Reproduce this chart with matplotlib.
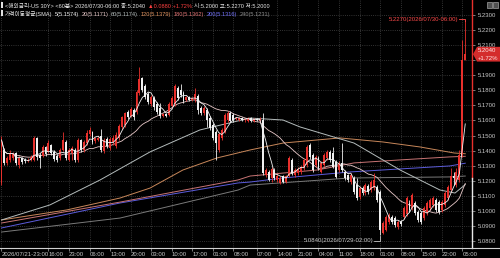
import numpy as np
import pandas as pd
import matplotlib
matplotlib.use("Agg")
import matplotlib.pyplot as plt
from matplotlib import font_manager
from matplotlib.patches import Polygon, Rectangle
from matplotlib.transforms import blended_transform_factory

#Fonts - narrow latin font first, korean fallback after it
installed = set(f.name for f in font_manager.fontManager.ttflist)
NARROW = 'Liberation Sans Narrow' if 'Liberation Sans Narrow' in installed else 'Liberation Sans'
plt.rcParams['font.family'] = [NARROW, 'Noto Sans CJK KR', 'DejaVu Sans']
#text sizes, a bit larger if the narrow face is there
FS_AX = 5.0 if NARROW == 'Liberation Sans Narrow' else 4.3
FS_HEAD = 5.0 if NARROW == 'Liberation Sans Narrow' else 4.1

#60 minute candles, US 30Y yield
opens = [5.1185, 5.1404, 5.1318, 5.1338, 5.1351, 5.1384, 5.1305, 5.1351, 5.1338, 5.1331,
         5.1338, 5.1338, 5.1484, 5.1371, 5.1364, 5.1424, 5.1391, 5.1437, 5.1391, 5.1364,
         5.1351, 5.1404, 5.1457, 5.1338, 5.1384, 5.1404, 5.1338, 5.1470, 5.1404, 5.1450,
         5.1510, 5.1524, 5.1464, 5.1470, 5.1497, 5.1397, 5.1477, 5.1417, 5.1457, 5.1430,
         5.1484, 5.1557, 5.1570, 5.1656, 5.1630, 5.1670, 5.1656, 5.1782, 5.1882, 5.1829,
         5.1776, 5.1710, 5.1749, 5.1710, 5.1683, 5.1630, 5.1643, 5.1636, 5.1696, 5.1710,
         5.1815, 5.1802, 5.1782, 5.1736, 5.1756, 5.1736, 5.1736, 5.1763, 5.1683, 5.1650,
         5.1670, 5.1616, 5.1570, 5.1524, 5.1404, 5.1484, 5.1524, 5.1603, 5.1650, 5.1636,
         5.1610, 5.1603, 5.1616, 5.1603, 5.1597, 5.1616, 5.1597, 5.1610, 5.1597, 5.1603,
         5.1238, 5.1258, 5.1218, 5.1271, 5.1205, 5.1185, 5.1231, 5.1191, 5.1231, 5.1338,
         5.1238, 5.1251, 5.1258, 5.1285, 5.1305, 5.1437, 5.1371, 5.1305, 5.1351, 5.1258,
         5.1305, 5.1351, 5.1391, 5.1384, 5.1325, 5.1271, 5.1318, 5.1258, 5.1238, 5.1191,
         5.1218, 5.1171, 5.1092, 5.1151, 5.1118, 5.1165, 5.1138, 5.1151, 5.1158, 5.1125,
         5.0853, 5.0873, 5.0926, 5.0959, 5.0952, 5.0893, 5.0926, 5.0959, 5.0979, 5.1052,
         5.1019, 5.1052, 5.0992, 5.0986, 5.0952, 5.0986, 5.1019, 5.1039, 5.1072, 5.1058,
         5.1006, 5.1039, 5.1085, 5.1138, 5.1231, 5.1171, 5.1205, 5.1371, 5.2000]
highs = [5.1497, 5.1417, 5.1364, 5.1404, 5.1391, 5.1391, 5.1364, 5.1358, 5.1351, 5.1351,
         5.1371, 5.1497, 5.1490, 5.1384, 5.1437, 5.1430, 5.1470, 5.1444, 5.1404, 5.1377,
         5.1417, 5.1524, 5.1470, 5.1417, 5.1430, 5.1417, 5.1484, 5.1477, 5.1470, 5.1537,
         5.1557, 5.1530, 5.1490, 5.1497, 5.1544, 5.1484, 5.1490, 5.1490, 5.1504, 5.1524,
         5.1577, 5.1630, 5.1656, 5.1670, 5.1690, 5.1683, 5.1802, 5.1956, 5.1889, 5.1842,
         5.1789, 5.1769, 5.1763, 5.1723, 5.1716, 5.1650, 5.1650, 5.1723, 5.1763, 5.1842,
         5.1829, 5.1842, 5.1796, 5.1763, 5.1763, 5.1756, 5.1815, 5.1776, 5.1696, 5.1696,
         5.1683, 5.1630, 5.1583, 5.1537, 5.1524, 5.1550, 5.1650, 5.1663, 5.1663, 5.1650,
         5.1623, 5.1623, 5.1623, 5.1616, 5.1623, 5.1623, 5.1616, 5.1616, 5.1623, 5.1650,
         5.1285, 5.1271, 5.1291, 5.1285, 5.1245, 5.1231, 5.1238, 5.1238, 5.1364, 5.1351,
         5.1285, 5.1291, 5.1305, 5.1351, 5.1437, 5.1450, 5.1384, 5.1371, 5.1364, 5.1331,
         5.1384, 5.1404, 5.1404, 5.1424, 5.1338, 5.1331, 5.1450, 5.1271, 5.1245, 5.1251,
         5.1231, 5.1218, 5.1165, 5.1165, 5.1185, 5.1178, 5.1205, 5.1251, 5.1171, 5.1138,
         5.0932, 5.0972, 5.0986, 5.0972, 5.0966, 5.0939, 5.0939, 5.1032, 5.1098, 5.1072,
         5.1118, 5.1065, 5.1006, 5.0999, 5.1032, 5.1065, 5.1085, 5.1098, 5.1085, 5.1072,
         5.1072, 5.1131, 5.1171, 5.1285, 5.1258, 5.1285, 5.1404, 5.2134, 5.2270]
lows = [5.1172, 5.1305, 5.1305, 5.1325, 5.1338, 5.1305, 5.1285, 5.1311, 5.1318, 5.1325,
        5.1331, 5.1331, 5.1338, 5.1285, 5.1358, 5.1364, 5.1384, 5.1371, 5.1331, 5.1325,
        5.1338, 5.1397, 5.1338, 5.1331, 5.1338, 5.1325, 5.1325, 5.1391, 5.1391, 5.1437,
        5.1497, 5.1444, 5.1450, 5.1464, 5.1391, 5.1384, 5.1417, 5.1404, 5.1437, 5.1417,
        5.1470, 5.1544, 5.1557, 5.1610, 5.1623, 5.1603, 5.1643, 5.1769, 5.1789, 5.1743,
        5.1710, 5.1696, 5.1670, 5.1643, 5.1616, 5.1623, 5.1623, 5.1630, 5.1683, 5.1696,
        5.1736, 5.1756, 5.1716, 5.1729, 5.1729, 5.1729, 5.1723, 5.1643, 5.1636, 5.1636,
        5.1557, 5.1537, 5.1470, 5.1338, 5.1391, 5.1470, 5.1517, 5.1590, 5.1590, 5.1590,
        5.1603, 5.1597, 5.1597, 5.1590, 5.1590, 5.1590, 5.1590, 5.1597, 5.1590, 5.1238,
        5.1224, 5.1198, 5.1191, 5.1205, 5.1191, 5.1178, 5.1185, 5.1185, 5.1224, 5.1238,
        5.1224, 5.1238, 5.1245, 5.1271, 5.1291, 5.1344, 5.1258, 5.1291, 5.1271, 5.1251,
        5.1291, 5.1338, 5.1325, 5.1285, 5.1218, 5.1258, 5.1258, 5.1205, 5.1191, 5.1178,
        5.1111, 5.1072, 5.1078, 5.1105, 5.1105, 5.1111, 5.1125, 5.1138, 5.1058, 5.0840,
        5.0846, 5.0866, 5.0912, 5.0912, 5.0893, 5.0879, 5.0899, 5.0946, 5.0966, 5.0992,
        5.1006, 5.0972, 5.0926, 5.0912, 5.0939, 5.0972, 5.1006, 5.1025, 5.0992, 5.0979,
        5.0992, 5.1025, 5.1072, 5.1125, 5.1171, 5.1158, 5.1191, 5.1358, 5.2000]
closes = [5.1470, 5.1318, 5.1351, 5.1384, 5.1377, 5.1318, 5.1351, 5.1325, 5.1331, 5.1338,
          5.1358, 5.1484, 5.1358, 5.1351, 5.1424, 5.1377, 5.1450, 5.1384, 5.1344, 5.1338,
          5.1404, 5.1470, 5.1351, 5.1404, 5.1417, 5.1338, 5.1470, 5.1404, 5.1457, 5.1517,
          5.1537, 5.1457, 5.1484, 5.1484, 5.1404, 5.1470, 5.1430, 5.1477, 5.1484, 5.1504,
          5.1563, 5.1623, 5.1650, 5.1623, 5.1676, 5.1623, 5.1789, 5.1875, 5.1802, 5.1756,
          5.1723, 5.1756, 5.1690, 5.1656, 5.1630, 5.1643, 5.1630, 5.1710, 5.1749, 5.1829,
          5.1749, 5.1769, 5.1729, 5.1756, 5.1736, 5.1749, 5.1776, 5.1670, 5.1650, 5.1683,
          5.1603, 5.1550, 5.1484, 5.1450, 5.1510, 5.1537, 5.1636, 5.1650, 5.1597, 5.1603,
          5.1616, 5.1616, 5.1603, 5.1610, 5.1616, 5.1597, 5.1610, 5.1603, 5.1610, 5.1251,
          5.1271, 5.1205, 5.1278, 5.1218, 5.1231, 5.1218, 5.1191, 5.1231, 5.1351, 5.1251,
          5.1271, 5.1278, 5.1291, 5.1338, 5.1424, 5.1358, 5.1271, 5.1358, 5.1285, 5.1318,
          5.1371, 5.1391, 5.1338, 5.1291, 5.1224, 5.1318, 5.1271, 5.1218, 5.1205, 5.1238,
          5.1125, 5.1085, 5.1151, 5.1118, 5.1171, 5.1125, 5.1191, 5.1205, 5.1072, 5.0873,
          5.0919, 5.0959, 5.0972, 5.0926, 5.0906, 5.0926, 5.0912, 5.1019, 5.1085, 5.1006,
          5.1105, 5.0986, 5.0939, 5.0926, 5.1019, 5.1052, 5.1072, 5.1085, 5.1006, 5.0992,
          5.1058, 5.1118, 5.1158, 5.1231, 5.1218, 5.1258, 5.1371, 5.2000, 5.2040]

#long moving averages read at a few bars (history before the window is not shown)
ma60_bar = [0, 16.5, 33.6, 50.6, 67.6, 84.7, 95.9, 101.7, 120.1, 135.8, 149.4, 154.5, 158]
ma60_val = [5.0939, 5.1039, 5.1205, 5.1391, 5.1537, 5.1616, 5.1603, 5.1557, 5.1450, 5.1271, 5.1138, 5.1118, 5.1174]
ma120_bar = [0, 22.3, 40.4, 50.6, 61.8, 73.4, 84.7, 95.9, 115.3, 130, 142.6, 154.2, 158]
ma120_val = [5.0939, 5.1006, 5.1085, 5.1151, 5.1271, 5.1351, 5.1404, 5.1450, 5.1484, 5.1457, 5.1424, 5.1384, 5.1379]
ma180_bar = [0, 40.4, 80.6, 84.7, 107.5, 120.1, 135.8, 152.8, 158]
ma180_val = [5.0919, 5.1058, 5.1205, 5.1231, 5.1271, 5.1318, 5.1338, 5.1358, 5.1362]
ma200_bar = [0, 40.4, 80.6, 84.7, 95.9, 118.7, 152.8, 158]
ma200_val = [5.0886, 5.1052, 5.1185, 5.1191, 5.1218, 5.1258, 5.1298, 5.1316]
ma240_bar = [0, 40.4, 80.6, 84.7, 118.7, 152.8, 158]
ma240_val = [5.0859, 5.0952, 5.1138, 5.1171, 5.1218, 5.1225, 5.1231]

#time axis labels
tick_bars = [0, 16, 23, 30, 37, 44, 51, 58, 65, 72, 79, 87, 94, 101, 108, 115, 122, 129, 136, 143, 150, 157]
tick_labels = ["2026/07/21-23:00", "16:00", "23:00", "06:00", "13:00", "20:00", "03:00", "10:00",
               "17:00", "01:00", "08:00", "07:00", "14:00", "21:00", "04:00", "11:00", "18:00",
               "01:00", "08:00", "15:00", "22:00", "05:00"]
price_ticks = [5.08, 5.09, 5.10, 5.11, 5.12, 5.13, 5.14, 5.15, 5.16, 5.17, 5.18, 5.19, 5.20, 5.21, 5.22, 5.23]

#colours
UP = '#e8302c'
DOWN = '#f0f0f0'
TXT = '#c8c8c8'
C5, C20, C60 = '#f2f2f2', '#e8c8c8', '#b4bcbc'
C120, C180, C200, C240 = '#c8875a', '#c87474', '#5c5cdc', '#7a7a7a'

fig = plt.figure(figsize=(5.0, 2.58), dpi=100, facecolor='black')
ax = fig.add_axes([0, 10 / 258, 472 / 500, 248 / 258])
ax.set_facecolor('black')

x = np.arange(len(closes))
o = np.array(opens)
c = np.array(closes)
up = c >= o
cols = np.where(up, UP, DOWN)

#moving averages first so candles sit on top
sma5 = pd.Series(closes).rolling(5, min_periods=1).mean()
sma20 = pd.Series(closes).rolling(20, min_periods=1).mean()
ax.plot(ma240_bar, ma240_val, color=C240, lw=0.7, zorder=2)
ax.plot(ma200_bar, ma200_val, color=C200, lw=0.7, zorder=2)
ax.plot(ma180_bar, ma180_val, color=C180, lw=0.7, zorder=2)
ax.plot(ma120_bar, ma120_val, color=C120, lw=0.7, zorder=2)
ax.plot(ma60_bar, ma60_val, color=C60, lw=0.7, zorder=2)
ax.plot(x, sma20, color=C20, lw=0.6, zorder=2)

#candles
ax.vlines(x, lows, highs, colors=cols, lw=0.6, zorder=3)
body = np.maximum(np.abs(c - o), 0.0003)
ax.bar(x, body, bottom=np.minimum(o, c), width=0.66, color=cols, lw=0, zorder=4)
ax.plot(x, sma5, color=C5, lw=0.6, zorder=5)

ax.set_xlim(-0.51, 160.3)
ax.set_ylim(5.0753, 5.2400)

#grid and axes (5.2000 sits under the price tag)
ax.set_xticks(tick_bars)
ax.set_xticklabels(tick_labels, ha='left')
ax.set_yticks(price_ticks)
ax.set_yticklabels(['' if abs(p - 5.20) < 1e-9 else '%.4f' % p for p in price_ticks])
ax.yaxis.tick_right()
ax.tick_params(axis='both', colors='#909090', labelcolor=TXT, labelsize=FS_AX, length=2, width=0.6)
ax.tick_params(axis='x', pad=1)
ax.tick_params(axis='y', pad=2)
ax.grid(True, color='#444444', linestyle=(0, (1, 1.6)), lw=0.6)
ax.set_axisbelow(True)
for s in ax.spines.values():
    s.set_visible(False)

#bottom line across the whole width, right edge line red/white
fig.add_artist(plt.Line2D([0, 1], [10 / 258, 10 / 258], color='#d0d0d0', lw=0.8))
yax = ax.get_yaxis_transform()
ax.plot([1, 1], [5.1218, 5.2400], color=UP, lw=1.0, transform=yax, clip_on=False, zorder=6)
ax.plot([1, 1], [5.0753, 5.1218], color='#e8e8e8', lw=1.0, transform=yax, clip_on=False, zorder=6)

#high / low markers
hi_bar = 158
ax.text(hi_bar - 2.4, 5.2273, "5.2270(2026/07/30-06:00)", color='#ff4a4a', fontsize=FS_AX,
        ha='right', va='center', zorder=7)
ax.plot([hi_bar - 2.2, hi_bar, hi_bar], [5.2273, 5.2273, 5.2262], color='#ff4a4a', lw=0.6, zorder=7)
lo_bar = 129
ax.text(lo_bar - 2.2, 5.0800, "5.0840(2026/07/29-02:00)", color=TXT, fontsize=FS_AX,
        ha='right', va='center', zorder=7)
ax.plot([lo_bar - 2.0, lo_bar, lo_bar], [5.0800, 5.0800, 5.0836], color=TXT, lw=0.6, zorder=7)

#current price tag on the right axis
last = closes[-1]
tf = blended_transform_factory(fig.transFigure, ax.transData)
d = 0.0049
tag = Polygon([(0.946, last), (0.954, last + d), (1.0, last + d), (1.0, last - d), (0.954, last - d)],
              closed=True, transform=tf, facecolor='#d42c2c', edgecolor='none', clip_on=False, zorder=10)
ax.add_patch(tag)
ax.text(0.956, last + 0.0023, "%.4f" % last, transform=tf, color='#ffe8e8', fontsize=FS_AX,
        ha='left', va='center', zorder=11, clip_on=False)
ax.text(0.956, last - 0.0026, "+1.72%", transform=tf, color='#ffe8e8', fontsize=FS_AX,
        ha='left', va='center', zorder=11, clip_on=False)

#header rows, each piece chained after the one before
def header_row(parts, x0, y0):
    prev = fig.text(x0, y0, parts[0][0], color=parts[0][1], fontsize=FS_HEAD, va='bottom')
    for s, col in parts[1:]:
        prev = ax.annotate(s, xy=(1, 0), xycoords=prev, xytext=(1.8, 0), textcoords='offset points',
                           color=col, fontsize=FS_HEAD, va='bottom', ha='left', annotation_clip=False)

header_row([("<해외금리-US 30Y> <60분> 2026/07/30-06:00 종:5.2040", '#e8e8e8'),
            ("▲0.0880 +1.72%", '#ff4040'),
            ("시:5.2000 고:5.2270 저:5.2000", '#e8e8e8')], 5 / 500, 1 - 9 / 258)
header_row([("가격이동평균(SMA)", '#e8e8e8'),
            ("5(5.1574)", C5), ("20(5.1171)", C20), ("60(5.1174)", C60), ("120(5.1379)", '#e0925e'),
            ("180(5.1362)", '#e07474'), ("200(5.1316)", '#7474ff'), ("240(5.1231)", '#8c8c8c')],
           5 / 500, 1 - 17 / 258)

#small markers at left of the header and window buttons at top right
fig.add_artist(Rectangle((1 / 500, 1 - 8 / 258), 2 / 500, 6 / 258, transform=fig.transFigure,
                         facecolor='#e0e0e0', edgecolor='none'))
fig.add_artist(Rectangle((1 / 500, 1 - 16 / 258), 2 / 500, 6 / 258, transform=fig.transFigure,
                         facecolor='#e0e0e0', edgecolor='none'))
for bx in (487, 493):
    fig.add_artist(Rectangle((bx / 500, 1 - 8 / 258), 5 / 500, 6 / 258, transform=fig.transFigure,
                             facecolor='#505050', edgecolor='#a0a0a0', lw=0.5))

fig.savefig('out.png', dpi=100, facecolor='black')
